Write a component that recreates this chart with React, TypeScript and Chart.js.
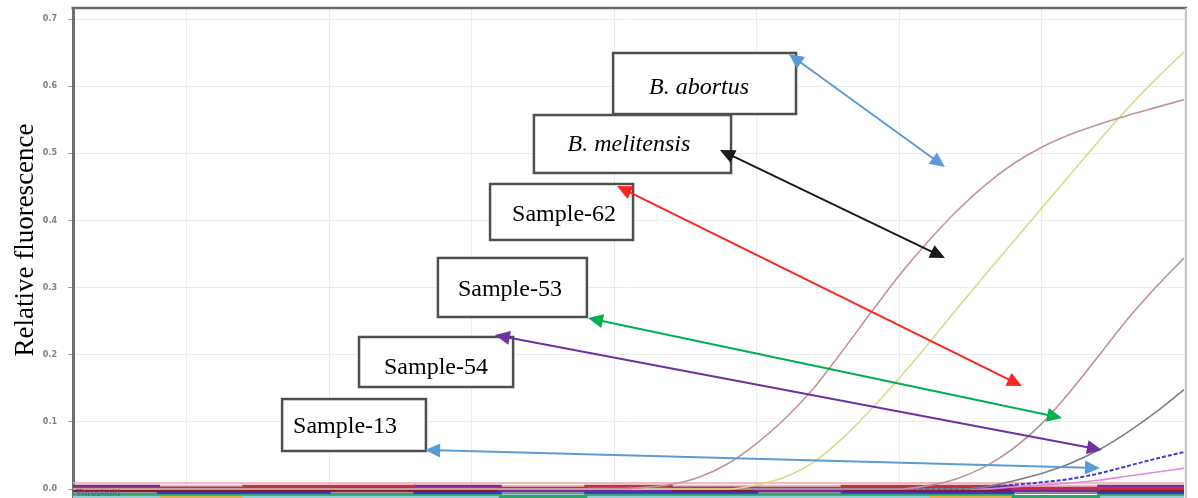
import React, { useEffect, useRef } from "react";
import { Chart, registerables } from "chart.js";

Chart.register(...registerables);

// ---------- data ----------
const CYCLES = [1, 2, 3, 4, 5, 6, 7, 8, 9, 10, 11, 12, 13, 14, 15, 16, 17, 18, 19, 20,
  21, 22, 23, 24, 25, 26, 27, 28, 29, 30, 31, 32, 33, 34, 35, 36, 37, 38, 39, 40];

const CURVE_A = [0, 0, 0, 0, 0, 0, 0, 0, 0, 0, 0, 0, 0, 0, 0, 0, 0, 0, 0, 0,
  0.002, 0.007, 0.018, 0.038, 0.068, 0.105, 0.15, 0.205, 0.262, 0.318,
  0.368, 0.413, 0.452, 0.484, 0.509, 0.528, 0.543, 0.556, 0.568, 0.58];
const CURVE_B = [0, 0, 0, 0, 0, 0, 0, 0, 0, 0, 0, 0, 0, 0, 0, 0, 0, 0, 0, 0,
  0, 0, 0, 0, 0.006, 0.018, 0.04, 0.075, 0.118, 0.165,
  0.215, 0.267, 0.318, 0.368, 0.418, 0.468, 0.518, 0.566, 0.61, 0.651];
const CURVE_C = [0, 0, 0, 0, 0, 0, 0, 0, 0, 0, 0, 0, 0, 0, 0, 0, 0, 0, 0, 0,
  0, 0, 0, 0, 0, 0, 0, 0, 0, 0,
  0.005, 0.015, 0.033, 0.06, 0.097, 0.145, 0.198, 0.252, 0.3, 0.344];
const CURVE_D = [0, 0, 0, 0, 0, 0, 0, 0, 0, 0, 0, 0, 0, 0, 0, 0, 0, 0, 0, 0,
  0, 0, 0, 0, 0, 0, 0, 0, 0, 0,
  0, 0, 0.003, 0.012, 0.023, 0.038, 0.058, 0.084, 0.114, 0.148];
const CURVE_E = [0, 0, 0, 0, 0, 0, 0, 0, 0, 0, 0, 0, 0, 0, 0, 0, 0, 0, 0, 0,
  0, 0, 0, 0, 0, 0, 0, 0, 0, 0,
  0, 0, 0.003, 0.006, 0.01, 0.015, 0.023, 0.034, 0.045, 0.055];
const CURVE_F = [0, 0, 0, 0, 0, 0, 0, 0, 0, 0, 0, 0, 0, 0, 0, 0, 0, 0, 0, 0,
  0, 0, 0, 0, 0, 0, 0, 0, 0, 0,
  0, 0, 0, 0.003, 0.006, 0.009, 0.013, 0.019, 0.025, 0.031];

// flat, noisy baseline traces (negative samples)
const BASE_CYCLES = [1, 4, 7, 10, 13, 16, 19, 22, 25, 28, 31, 34, 37, 40];
const BASE_1 = [0.001, 0.001, 0.004, 0.004, 0.001, 0.001, 0.004, 0.001, 0.001, 0.004, 0.004, 0.001, 0.001, 0.001];
const BASE_2 = [0.004, 0.001, 0.001, 0.001, 0.004, -0.002, -0.002, 0.001, -0.002, 0.001, 0.001, -0.002, 0.004, 0.001];
const BASE_3 = [-0.002, -0.002, -0.002, -0.002, -0.002, -0.002, 0.001, -0.002, -0.002, -0.002, -0.002, -0.002, -0.002, -0.002];
const BASE_4 = [-0.002, -0.005, -0.005, 0.001, -0.005, 0.001, -0.005, -0.005, 0.001, -0.005, -0.005, 0.001, -0.005, -0.002];
const BASE_5 = [0.004, 0.004, 0.001, 0.004, 0.004, 0.004, 0.004, 0.004, 0.004, 0.001, 0.004, 0.004, 0.004, 0.004];
const BASE_6 = [-0.005, -0.002, -0.005, -0.005, -0.002, -0.005, -0.005, -0.005, -0.005, -0.005, -0.002, -0.005, -0.002, -0.005];
const BASE_7 = [-0.005, -0.005, -0.002, -0.005, -0.005, -0.005, -0.002, -0.005, -0.005, -0.002, -0.005, -0.005, -0.005, -0.005];
const BASE_8 = [-0.008, -0.008, -0.008, -0.008, -0.008, -0.011, -0.008, -0.008, -0.008, -0.008, -0.008, -0.011, -0.008, -0.008];
const BASE_9 = [-0.011, -0.008, -0.011, -0.011, -0.011, -0.008, -0.011, -0.011, -0.011, -0.011, -0.008, -0.011, -0.011, -0.011];
const BASE_10 = [-0.011, -0.011, -0.008, -0.011, -0.008, -0.011, -0.011, -0.008, -0.011, -0.011, -0.011, -0.011, -0.008, -0.011];

const THRESHOLD = 0.009;
const Y_TICKS = [0, 0.1, 0.2, 0.3, 0.4, 0.5, 0.6, 0.7];
const X_GRID = [5, 10, 15, 20, 25, 30, 35, 40];
const Y_MIN = -0.0134;
const Y_MAX = 0.7164;

const Y_TITLE = "Relative fluorescence";
const THRESHOLD_LABEL = "Threshold";

// annotation callouts: box corners and arrow tips in data units (cycle, fluorescence)
const ANNOTATIONS = [
  { label: "B. abortus", italic: true, box: [19.96, 0.6494, 26.38, 0.5585], tx: 86, ty: 41,
    from: [26.13, 0.6479], to: [31.61, 0.4796], color: "#5b9bd5" },
  { label: "B. melitensis", italic: true, box: [17.18, 0.557, 24.1, 0.4707], tx: 95, ty: 36,
    from: [23.71, 0.5049], to: [31.61, 0.3441], color: "#1a1a1a" },
  { label: "Sample-62", italic: false, box: [15.64, 0.4543, 20.66, 0.3709], tx: 74, ty: 37,
    from: [20.1, 0.4513], to: [34.31, 0.1534], color: "#ff2424" },
  { label: "Sample-53", italic: false, box: [13.81, 0.3441, 19.04, 0.2562], tx: 72, ty: 38,
    from: [19.08, 0.2547], to: [35.72, 0.1057], color: "#00b050" },
  { label: "Sample-54", italic: false, box: [11.04, 0.2264, 16.45, 0.1519], tx: 77, ty: 37,
    from: [15.81, 0.2294], to: [37.12, 0.0581], color: "#7030a0" },
  { label: "Sample-13", italic: false, box: [8.34, 0.134, 13.39, 0.0566], tx: 63, ty: 34,
    from: [13.36, 0.0581], to: [37.05, 0.0313], color: "#5b9bd5" },
];

// ---------- helpers ----------
const pts = (xs: number[], ys: number[]) => xs.map((x, i) => ({ x, y: ys[i] }));

function drawHead(ctx: CanvasRenderingContext2D, x: number, y: number, ang: number) {
  const L = 15, W = 7;
  const c = Math.cos(ang), s = Math.sin(ang);
  ctx.beginPath();
  ctx.moveTo(x, y);
  ctx.lineTo(x - L * c + W * s, y - L * s - W * c);
  ctx.lineTo(x - L * c - W * s, y - L * s + W * c);
  ctx.closePath();
  ctx.fill();
}

function drawArrow(ctx: CanvasRenderingContext2D, x1: number, y1: number, x2: number, y2: number, color: string) {
  const ang = Math.atan2(y2 - y1, x2 - x1);
  const c = Math.cos(ang), s = Math.sin(ang);
  ctx.strokeStyle = color;
  ctx.fillStyle = color;
  ctx.lineWidth = 2;
  ctx.beginPath();
  ctx.moveTo(x1 + c * 12, y1 + s * 12);
  ctx.lineTo(x2 - c * 12, y2 - s * 12);
  ctx.stroke();
  drawHead(ctx, x2, y2, ang);
  drawHead(ctx, x1, y1, ang + Math.PI);
}

const overlayPlugin = {
  id: "overlay",
  beforeDraw(chart: any) {
    const { ctx, width, height } = chart;
    ctx.save();
    ctx.fillStyle = "#ffffff";
    ctx.fillRect(0, 0, width, height);
    ctx.restore();
  },
  afterDatasetsDraw(chart: any) {
    const { ctx, chartArea, scales } = chart;
    const xs = scales.x, ys = scales.y;
    ctx.save();
    // frame
    ctx.strokeStyle = "#6b6b6b";
    ctx.lineWidth = 2.5;
    ctx.beginPath();
    ctx.moveTo(chartArea.left - 1.5, chartArea.top);
    ctx.lineTo(chartArea.right + 3, chartArea.top);
    ctx.stroke();
    ctx.strokeStyle = "#c8c8c8";
    ctx.lineWidth = 2;
    ctx.beginPath();
    ctx.moveTo(chartArea.right + 2, chartArea.top);
    ctx.lineTo(chartArea.right + 2, chartArea.bottom);
    ctx.stroke();

    // threshold label
    ctx.fillStyle = "#5a5aa8";
    ctx.font = '9px "DejaVu Sans"';
    ctx.textAlign = "left";
    ctx.textBaseline = "alphabetic";
    ctx.fillText(THRESHOLD_LABEL, chartArea.left + 3, chartArea.bottom - 2);

    // boxes
    for (const a of ANNOTATIONS) {
      const l = xs.getPixelForValue(a.box[0]);
      const t = ys.getPixelForValue(a.box[1]);
      const r = xs.getPixelForValue(a.box[2]);
      const b = ys.getPixelForValue(a.box[3]);
      ctx.fillStyle = "#ffffff";
      ctx.fillRect(l, t, r - l, b - t);
      ctx.strokeStyle = "#4f4f4f";
      ctx.lineWidth = 2.5;
      ctx.strokeRect(l, t, r - l, b - t);
      ctx.fillStyle = "#000000";
      ctx.font = `${a.italic ? "italic " : ""}24px "Liberation Serif"`;
      ctx.textAlign = "center";
      ctx.textBaseline = "alphabetic";
      ctx.fillText(a.label, l + a.tx, t + a.ty);
    }
    // arrows
    for (const a of ANNOTATIONS) {
      drawArrow(
        ctx,
        xs.getPixelForValue(a.from[0]), ys.getPixelForValue(a.from[1]),
        xs.getPixelForValue(a.to[0]), ys.getPixelForValue(a.to[1]),
        a.color
      );
    }
    // y title
    ctx.fillStyle = "#000000";
    ctx.font = '27px "Liberation Serif"';
    ctx.textAlign = "center";
    ctx.textBaseline = "alphabetic";
    ctx.translate(33, 240);
    ctx.rotate(-Math.PI / 2);
    ctx.fillText(Y_TITLE, 0, 0);
    ctx.restore();
  },
};

export default function App() {
  const ref = useRef<HTMLCanvasElement>(null);
  useEffect(() => {
    if (!ref.current) return;
    const curve = (data: number[], color: string, dash: number[] = [], width = 1.6) => ({
      data: pts(CYCLES, data),
      borderColor: color,
      borderWidth: width,
      borderDash: dash,
      pointRadius: 0,
      fill: false,
      cubicInterpolationMode: "monotone" as const,
    });
    const base = (data: number[], color: string) => ({
      data: pts(BASE_CYCLES, data),
      borderColor: color,
      borderWidth: 3,
      pointRadius: 0,
      fill: false,
      stepped: true as const,
    });
    const chart = new Chart(ref.current, {
      type: "line",
      data: {
        datasets: [
          curve(CURVE_A, "#c2949b"),
          curve(CURVE_B, "#d9d98c"),
          curve(CURVE_C, "#b9929b"),
          curve(CURVE_D, "#7e7e7e"),
          curve(CURVE_E, "#3b3bcf", [4, 2], 2),
          curve(CURVE_F, "#df8ade"),
          {
            data: [{ x: 1, y: THRESHOLD }, { x: 40, y: THRESHOLD }],
            borderColor: "#e9a9a9",
            borderWidth: 1.5,
            pointRadius: 0,
            fill: false,
          },
          base(BASE_1, "#c0304a"),
          base(BASE_2, "#7a2aa0"),
          base(BASE_5, "#f0b8c4"),
          base(BASE_3, "#8b1a2a"),
          base(BASE_4, "#3535c0"),
          base(BASE_6, "#909090"),
          base(BASE_7, "#b02030"),
          base(BASE_8, "#30a070"),
          base(BASE_9, "#90d0d0"),
          base(BASE_10, "#e0b050"),
        ],
      },
      options: {
        responsive: false,
        animation: false,
        layout: { padding: { left: 0, top: 8, right: 14, bottom: 0 } },
        plugins: { legend: { display: false }, tooltip: { enabled: false } },
        scales: {
          x: {
            type: "linear",
            min: 1,
            max: 40,
            afterBuildTicks: (s: any) => { s.ticks = X_GRID.map((v) => ({ value: v })); },
            ticks: { display: false },
            grid: { color: "#ececec", lineWidth: 1, drawTicks: false },
            border: { display: false },
          },
          y: {
            type: "linear",
            min: Y_MIN,
            max: Y_MAX,
            afterBuildTicks: (s: any) => { s.ticks = Y_TICKS.map((v) => ({ value: v })); },
            afterFit: (s: any) => {
              s.width = 73;
              s.paddingTop = 0;
              s.paddingBottom = 0;
            },
            ticks: {
              font: { family: "DejaVu Sans", size: 8, weight: "bold" },
              color: "#808080",
              padding: 11,
              callback: (v: any) => Number(v).toFixed(1),
            },
            grid: { color: "#ececec", lineWidth: 1, tickLength: 5, tickColor: "#a0a0a0" },
            border: { display: true, color: "#707070", width: 3 },
          },
        },
      },
      plugins: [overlayPlugin],
    } as any);
    return () => chart.destroy();
  }, []);
  return (
    <div style={{ position: "fixed", left: 0, top: 0, width: 1198, height: 498, background: "#fff" }}>
      <canvas ref={ref} width={1198} height={498} style={{ display: "block" }} />
    </div>
  );
}
